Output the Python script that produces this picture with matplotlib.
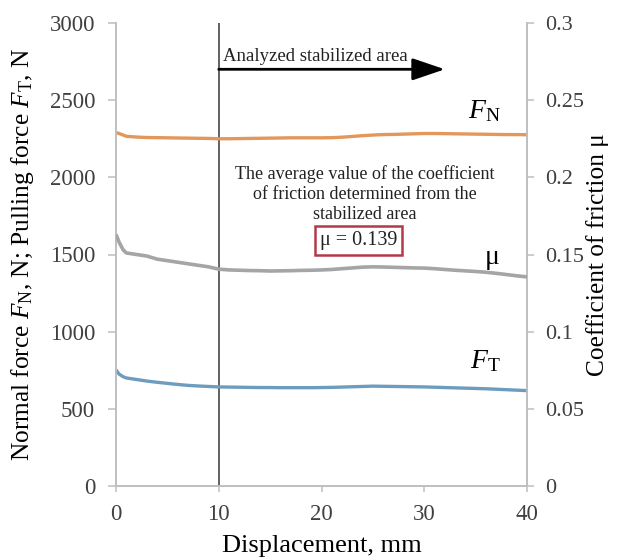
import matplotlib
matplotlib.use("Agg")
import matplotlib.pyplot as plt

plt.rcParams['font.family'] = ['Liberation Serif', 'DejaVu Serif']
plt.rcParams['mathtext.fontset'] = 'custom'
plt.rcParams['mathtext.rm'] = 'Liberation Serif'
plt.rcParams['mathtext.it'] = 'Liberation Serif:italic'

# Displacement (mm)
disp = [0, 0.3, 0.7, 1, 2, 3, 4, 5, 6, 7, 8, 9, 10, 11, 12, 13, 14, 15, 16, 17, 18, 19, 20,
        21, 22, 23, 24, 25, 26, 27, 28, 29, 30, 31, 32, 33, 34, 35, 36, 37, 38, 39, 40]
# Normal force F_N (N)
f_normal = [2290, 2284, 2274, 2266, 2261, 2258, 2257, 2256, 2255, 2254, 2253, 2252, 2250, 2250,
            2251, 2252, 2253, 2254, 2255, 2256, 2256, 2256, 2256, 2257, 2260, 2265, 2270, 2274,
            2277, 2278, 2280, 2282, 2284, 2284, 2283, 2282, 2281, 2280, 2279, 2278, 2277, 2277, 2276]
# Coefficient of friction mu
mu = [0.163, 0.158, 0.153, 0.151, 0.150, 0.149, 0.147, 0.146, 0.145, 0.144, 0.143, 0.142, 0.1405,
      0.1400, 0.1398, 0.1396, 0.1395, 0.1393, 0.1394, 0.1395, 0.1397, 0.1398, 0.1400, 0.1403,
      0.1408, 0.1413, 0.1418, 0.1420, 0.1419, 0.1417, 0.1415, 0.1413, 0.1412, 0.1408, 0.1403,
      0.1398, 0.1394, 0.1390, 0.1385, 0.1378, 0.1370, 0.1362, 0.1355]
# Pulling force F_T (N)
f_pull = [753, 725, 708, 700, 690, 680, 672, 665, 658, 652, 648, 645, 642, 641, 640, 639, 638,
          638, 637, 637, 637, 637, 638, 639, 641, 643, 645, 647, 646, 645, 644, 643, 642, 640,
          638, 636, 634, 632, 630, 627, 624, 621, 618]

left_ticks = [0, 500, 1000, 1500, 2000, 2500, 3000]
right_ticks = [0, 0.05, 0.1, 0.15, 0.2, 0.25, 0.3]
right_labels = ['0', '0.05', '0.1', '0.15', '0.2', '0.25', '0.3']
x_ticks = [0, 10, 20, 30, 40]

fig = plt.figure(figsize=(6.24, 5.58), dpi=100)
ax = fig.add_axes([116/624, 1-486/558, 411/624, 463/558])
ax2 = ax.twinx()

c_fn = '#E3975A'
c_ft = '#6C9DBE'
c_mu = '#A5A5A5'
spine_c = '#BFBFBF'
tick_c = '#404040'

ax.plot(disp, f_normal, color=c_fn, lw=2.4, solid_capstyle='butt', zorder=3)
ax.plot(disp, f_pull, color=c_ft, lw=2.4, solid_capstyle='butt', zorder=3)
ax2.plot(disp, mu, color=c_mu, lw=2.6, solid_capstyle='butt', zorder=3)

ax.set_xlim(0, 40)
ax.set_ylim(0, 3000)
ax2.set_ylim(0, 0.3)
ax.set_xticks(x_ticks)
ax.set_yticks(left_ticks)
ax2.set_yticks(right_ticks)
ax2.set_yticklabels(right_labels)

ax.axvline(10, color='#555555', lw=1.3, zorder=2)

for a in (ax, ax2):
    for s in a.spines.values():
        s.set_color(spine_c)
        s.set_linewidth(1.2)
    a.spines['top'].set_visible(False)

ax.tick_params(axis='y', direction='out', length=6, width=1.1, color=spine_c,
               labelsize=16.5, labelcolor=tick_c, pad=9)
ax.tick_params(axis='x', direction='out', length=4, width=1.1, color=spine_c,
               labelsize=16.5, labelcolor=tick_c, pad=9)
ax2.tick_params(axis='y', direction='out', length=5, width=1.1, color=spine_c,
                labelsize=16, labelcolor=tick_c, pad=8)

ax.set_xlabel('Displacement, mm', fontsize=19)
ax.xaxis.set_label_coords(0.5, -0.105)
ax.set_ylabel(r'Normal force $F_\mathrm{N}$, N; Pulling force $F_\mathrm{T}$, N', fontsize=18.3)
ax.yaxis.set_label_coords(-0.195, 0.5)
ax2.set_ylabel('Coefficient of friction μ', fontsize=18.3, rotation=90)
ax2.yaxis.set_label_coords(1.143, 0.5)

# Arrow for analyzed area
ax.annotate('', xy=(32.0, 2700), xytext=(10, 2700),
            arrowprops=dict(arrowstyle='-|>,head_length=1.0,head_width=0.34',
                            mutation_scale=20, lw=2.0, color='black', shrinkA=0, shrinkB=0),
            zorder=4)
ax.text(10.4, 2780, 'Analyzed stabilized area', fontsize=13.5, va='center', ha='left', color='#222222')

ax.text(24.2, 1890, 'The average value of the coefficient\nof friction determined from the\nstabilized area',
        fontsize=13, ha='center', va='center', linespacing=1.25, color='#222222')
ax.text(23.6, 1590, 'μ = 0.139', fontsize=14.5, ha='center', va='center', color='#222222',
        bbox=dict(boxstyle='square,pad=0.25', fc='white', ec='#B23A48', lw=1.8))

ax.text(35.9, 2430, r'$F_\mathrm{N}$', fontsize=20, ha='center', va='center')
ax.text(36.6, 1480, 'μ', fontsize=20, ha='center', va='center')
ax.text(35.9, 812, r'$F_\mathrm{T}$', fontsize=20, ha='center', va='center')

fig.savefig('out.png', dpi=100)
